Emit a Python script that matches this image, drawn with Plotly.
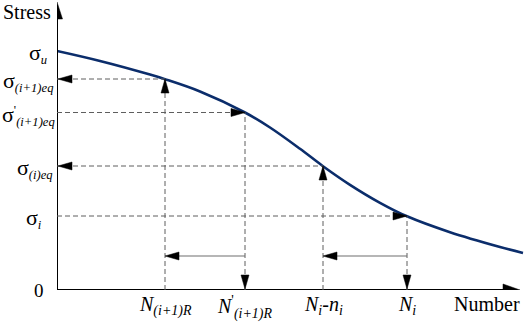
import plotly.graph_objects as go

# ---- data (arbitrary units) ----
curve_n = [0.00, 0.43, 0.93, 1.08, 1.43, 1.88, 2.13, 2.43, 2.66, 2.93, 3.23, 3.50, 3.93, 4.43, 4.66]
curve_s = [2.39, 2.29, 2.154, 2.108, 1.985, 1.775, 1.625, 1.412, 1.238, 1.052, 0.872, 0.737, 0.578, 0.43, 0.37]

# points on the curve used for the construction
point_n = [1.08, 1.88, 2.66, 3.50]
point_s = [2.11, 1.775, 1.24, 0.74]
# arrow direction on horizontal guides: "left" -> to axis, "right" -> to curve
h_dir = ["left", "right", "left", "right"]
# arrow direction on vertical guides: "up" -> to curve, "down" -> to axis
v_dir = ["up", "down", "up", "down"]
# horizontal solid arrows: (from point index, to point index)
shift_pairs = [(1, 0), (3, 2)]
shift_level = 0.34

SIG = "<span style='font-size:22px'>σ</span>"
stress_ticks = [2.39, 2.11, 1.775, 1.24, 0.74, 0.0]
stress_labels = [SIG + "<sub><i>u</i></sub>", SIG + "<sub><i>(i+1)eq</i></sub>",
                 SIG + "<sup>'</sup><sub><i>(i+1)eq</i></sub>", SIG + "<sub><i>(i)eq</i></sub>",
                 SIG + "<sub><i>i</i></sub>", "<span style='font-size:19px'>0</span>"]
number_labels = ["<i>N</i><sub><i>(i+1)R</i></sub>", "<i>N</i><sup>'</sup><sub><i>(i+1)R</i></sub>",
                 "<i>N</i><sub><i>i</i></sub>-<i>n</i><sub><i>i</i></sub>", "<i>N</i><sub><i>i</i></sub>"]

# styling: horizontal / vertical pixel offsets of the stress labels
label_xshift = [-8, -2, 0, -2, -13, -11]
label_yshift = [-2, -2, -3, -2, -2, 0]

# ---- layout geometry ----
W, H = 526, 322
ML, MR, MT, MB = 57, 0, 0, 32
XR = [0, 4.69]
YR = [0, 2.90]
kx = (W - ML - MR) / (XR[1] - XR[0])
ky = (H - MT - MB) / (YR[1] - YR[0])

FONT = "Liberation Serif, serif"
DASH_COL = "#5e5e5e"

shapes = []
annotations = []


def head(x, y, d, L=14, Wd=8, color="black"):
    dirs = {"up": (0, 1), "down": (0, -1), "left": (-1, 0), "right": (1, 0)}
    dx, dy = dirs[d]
    bx, by = x - dx * L / kx, y - dy * L / ky
    px, py = -dy * Wd / 2 / kx, dx * Wd / 2 / ky
    path = f"M{x},{y} L{bx + px},{by + py} L{bx - px},{by - py} Z"
    shapes.append(dict(type="path", path=path, xref="x", yref="y",
                       fillcolor=color, line=dict(color=color, width=0.5)))


# axes with arrows
shapes.append(dict(type="line", xref="x", yref="y", x0=0, y0=0, x1=0, y1=2.74,
                   line=dict(color="black", width=2)))
head(0, 2.88, "up", L=17, Wd=11)
shapes.append(dict(type="line", xref="x", yref="y", x0=0, y0=0, x1=4.48, y1=0,
                   line=dict(color="black", width=2)))
head(4.63, 0, "right", L=17, Wd=12)

# guide lines
for n, s, hd, vd in zip(point_n, point_s, h_dir, v_dir):
    shapes.append(dict(type="line", xref="x", yref="y", x0=0, y0=s, x1=n, y1=s,
                       line=dict(color=DASH_COL, width=1, dash="5px,3px")))
    shapes.append(dict(type="line", xref="x", yref="y", x0=n, y0=0, x1=n, y1=s,
                       line=dict(color=DASH_COL, width=1, dash="5px,3px")))
    if hd == "left":
        head(0.01, s, "left")
    else:
        head(n, s, "right")
    if vd == "up":
        head(n, s, "up")
    else:
        head(n, 0.01, "down")

for a, b in shift_pairs:
    shapes.append(dict(type="line", xref="x", yref="y", x0=point_n[a], y0=shift_level,
                       x1=point_n[b] + 0.1, y1=shift_level,
                       line=dict(color="#6e6e6e", width=1.2)))
    head(point_n[b], shift_level, "left")

# tick labels
for v, t, xs, ys in zip(stress_ticks, stress_labels, label_xshift, label_yshift):
    annotations.append(dict(x=0, y=v, xref="x", yref="y", text=t, showarrow=False,
                            xanchor="right", yanchor="middle", xshift=xs, yshift=ys,
                            font=dict(family=FONT, size=18, color="black")))
for v, t in zip(point_n, number_labels):
    annotations.append(dict(x=v, y=0, xref="x", yref="y", text=t, showarrow=False,
                            xanchor="center", yanchor="top", yshift=-1,
                            font=dict(family=FONT, size=20, color="black")))

# axis titles (paper coordinates so they are not hidden outside the axis range)
annotations.append(dict(x=-30 / (W - ML - MR), y=(H - MB - 12 - MT) / (H - MT - MB),
                        xref="paper", yref="paper", text="Stress", showarrow=False,
                        xanchor="center", yanchor="middle",
                        font=dict(family=FONT, size=20, color="black")))
annotations.append(dict(x=(487 - ML) / (W - ML - MR), y=-14 / (H - MT - MB),
                        xref="paper", yref="paper", text="Number", showarrow=False,
                        xanchor="center", yanchor="middle",
                        font=dict(family=FONT, size=20, color="black")))

fig = go.Figure()
fig.add_trace(go.Scatter(x=curve_n, y=curve_s, mode="lines", line_shape="spline",
                         line=dict(color="#0b2d6b", width=2.6), hoverinfo="skip",
                         showlegend=False))

fig.update_layout(
    width=W, height=H,
    margin=dict(l=ML, r=MR, t=MT, b=MB),
    plot_bgcolor="white", paper_bgcolor="white",
    xaxis=dict(range=XR, visible=False, fixedrange=True),
    yaxis=dict(range=YR, visible=False, fixedrange=True),
    shapes=shapes, annotations=annotations, showlegend=False,
)

fig.write_html("out.html", config={"displayModeBar": False},
               post_script="document.body.style.margin='0';document.body.style.overflow='hidden';")
